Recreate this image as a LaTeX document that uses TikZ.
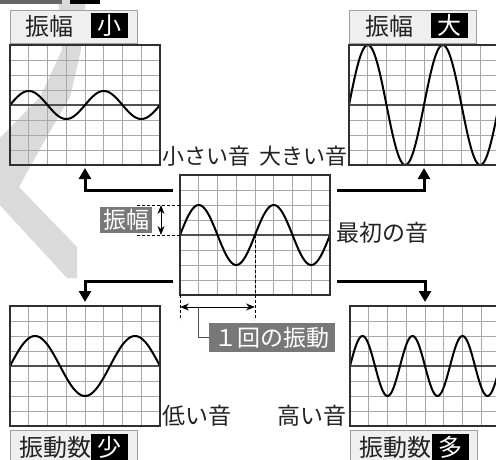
\documentclass[tikz,border=0pt]{standalone}
\usepackage{fontspec}
\setmainfont{Noto Sans CJK JP}
\usetikzlibrary{arrows.meta,calc}
\definecolor{bandgray}{HTML}{DADADA}
\definecolor{gridgray}{HTML}{A8A8A8}
\definecolor{axisgray}{HTML}{505050}
\definecolor{framegray}{HTML}{303030}
\definecolor{boxgray}{HTML}{787878}
\definecolor{labelfill}{HTML}{EFEFEF}
\definecolor{labeledge}{HTML}{A0A0A0}
\definecolor{textgray}{HTML}{222222}
\definecolor{bardark}{HTML}{666666}

\newcommand{\oscpanel}[5]{%
  \node[panel] (#1) at (#2+75,#3+60) {};
  \foreach \i in {1,...,7}{%
    \draw[gridline] ({#2+\i*18.75},#3) -- ({#2+\i*18.75},#3+120);
    \draw[gridline] (#2,{#3+\i*15}) -- (#2+150,{#3+\i*15});
  }
  \draw[axisline] (#1.west) -- (#1.east);
  \draw[wave] plot[domain=0:150,samples=181] ({#2+\x},{#3+60-#4*sin((360/#5)*\x)});
  \draw[frame] (#1.north west) rectangle (#1.south east);
}

\begin{document}
\begin{tikzpicture}[x=1pt,y=-1pt,
  panel/.style={minimum width=150pt,minimum height=120pt,inner sep=0pt,outer sep=0pt},
  gridline/.style={draw=gridgray,line width=0.8pt},
  axisline/.style={draw=axisgray,line width=1.1pt},
  frame/.style={draw=framegray,line width=1.4pt},
  wave/.style={draw=black,line width=2pt,line join=round},
  bigarrow/.style={line width=3pt,line join=miter,-{Triangle[width=12pt,length=11pt]}},
  dashline/.style={dash pattern=on 3pt off 2pt,line width=0.7pt},
  dblarrow/.style={line width=1pt,{Stealth[width=7pt,length=9pt]}-{Stealth[width=7pt,length=9pt]}},
  txt/.style={inner sep=0pt,text=textgray,font=\fontsize{23}{23}\selectfont},
  greybox/.style={fill=boxgray,text=white,inner sep=0pt,font=\fontsize{23}{23}\selectfont},
  labelbox/.style={fill=labelfill,draw=labeledge,line width=1pt,inner sep=0pt,minimum width=127pt,minimum height=33pt},
  labeltxt/.style={inner sep=0pt,text=textgray,font=\fontsize{24}{24}\selectfont},
  invbox/.style={fill=black,text=white,inner sep=0pt,minimum width=37pt,minimum height=25pt,font=\fontsize{24}{24}\selectfont},
]
\useasboundingbox (0,0) rectangle (496,459);
\clip (0,0) rectangle (496,459);

% background decorative band
\fill[bandgray] (58,-2) -- (86,-2) -- (81,50) -- (70,97) -- (45,140) -- (19,187)
  -- (77,247) -- (77,278) -- (67,278) -- (-2,203) -- (-2,140) -- (40,97) -- (62,50) -- cycle;
\fill[bardark] (0,0) rectangle (62,4);
\fill[black] (70,0) rectangle (100,4);

% top-left label
\node[labelbox,anchor=north west] (lblA) at (10,10) {};
\node[labeltxt,anchor=west] (lblAt) at (25,26.5) {振幅};
\node[invbox] (lblAk) at (109.5,25.5) {小};
% top-right label
\node[labelbox,anchor=north west] (lblB) at (349,10) {};
\node[labeltxt,anchor=west] (lblBt) at (365,26.5) {振幅};
\node[invbox] (lblBk) at (449.5,25.5) {大};
% bottom-left label
\node[labelbox,anchor=north west] (lblC) at (10,430) {};
\node[labeltxt,anchor=west] (lblCt) at (19,447) {振動数};
\node[invbox,minimum height=27pt] (lblCk) at (109.5,447) {少};
% bottom-right label
\node[labelbox,anchor=north west] (lblD) at (350,430) {};
\node[labeltxt,anchor=west] (lblDt) at (359,447) {振動数};
\node[invbox,minimum height=27pt] (lblDk) at (450,447) {多};

% panels
\oscpanel{tl}{10}{45}{14}{75}
\oscpanel{tr}{349}{45}{60}{75}
\oscpanel{c}{180}{175}{30}{75}
\oscpanel{bl}{10}{306}{30}{100}
\oscpanel{br}{350}{306}{30}{50}

% big arrows
\coordinate (s1) at (173,190);
\coordinate (s2) at (337,190);
\coordinate (s3) at (173,281);
\coordinate (s4) at (337,281);
\draw[bigarrow,shorten >=3pt] (s1) -| (tl.south);
\draw[bigarrow,shorten >=3pt] (s2) -| (tr.south);
\draw[bigarrow,shorten >=4pt] (s3) -| (bl.north);
\draw[bigarrow,shorten >=4pt] (s4) -| (br.north);

% amplitude annotation
\coordinate (aT) at (137,205);
\coordinate (aB) at (137,235);
\draw[dashline] (aT) -- (aT -| c.west);
\draw[dashline] (aB) -- (aB -| c.west);
\coordinate (aT2) at (161,205);
\coordinate (aB2) at (161,235);
\draw[dblarrow] (aT2) -- (aB2);
\node[greybox,minimum width=52pt,minimum height=26pt] (amp) at (126,220) {振幅};

% period annotation
\coordinate (p1) at (180,320);
\coordinate (p2t) at (255,235);
\coordinate (p2) at (255,320);
\draw[dashline] (c.south west) -- (p1);
\draw[dashline] (p2t) -- (p2);
\coordinate (pa) at (180,307);
\coordinate (pb) at (255,307);
\draw[dblarrow] (pa) -- (pb);
\node[greybox,minimum width=126pt,minimum height=29pt] (per) at (272,337.5) {１回の振動};
\coordinate (pc) at (198,307);
\draw[line width=1pt,draw=axisgray] (pc) |- (per.west);

% texts
\node[txt,anchor=west,font=\fontsize{22}{22}\selectfont] (small) at (162,156) {小さい音};
\node[txt,anchor=east,font=\fontsize{22}{22}\selectfont] (large) at (348,156) {大きい音};
\node[txt,anchor=west] (first) at (336,233) {最初の音};
\node[txt,anchor=west] (low) at (162,416) {低い音};
\node[txt,anchor=east] (high) at (347,416) {高い音};
\end{tikzpicture}
\end{document}
